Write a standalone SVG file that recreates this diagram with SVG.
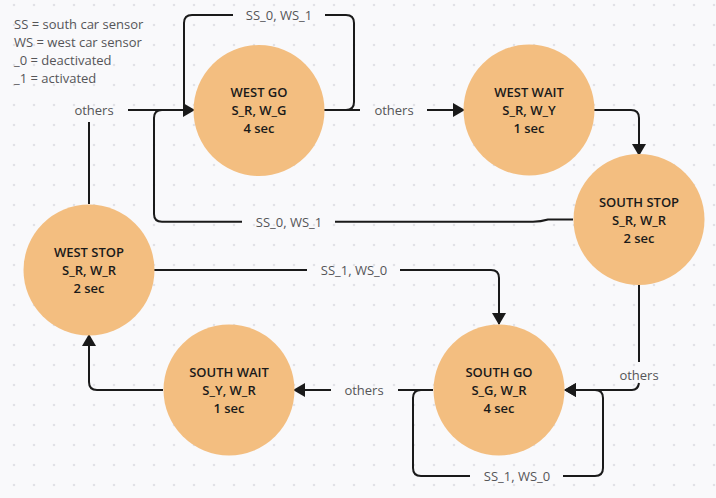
<svg xmlns="http://www.w3.org/2000/svg" width="716" height="498" viewBox="0 0 716 498">
<defs>
<pattern id="grid" x="4" y="-5" width="20" height="20" patternUnits="userSpaceOnUse">
<circle cx="10" cy="10" r="1.3" fill="#e1e1e6"/>
</pattern>
<marker id="arr" viewBox="0 0 12 14" refX="11" refY="7" markerWidth="12" markerHeight="14" markerUnits="userSpaceOnUse" orient="auto">
<path d="M0,0 L12,7 L0,14 Z" fill="#1a1a1a"/>
</marker>
<style>
.node{fill:#f3be80}
.nt{font-family:"Open Sans","Liberation Sans",sans-serif;font-size:13px;font-weight:600;fill:#1a1a1a;text-anchor:middle}
.lbl{font-family:"Open Sans","Liberation Sans",sans-serif;font-size:13px;fill:#555558;text-anchor:middle;dominant-baseline:central}
.leg{font-family:"Open Sans","Liberation Sans",sans-serif;font-size:13px;fill:#555558;dominant-baseline:central}
.c{fill:none;stroke:#1a1a1a;stroke-width:2;stroke-linejoin:round}
</style>
</defs>
<rect width="716" height="498" fill="#f9f9fb"/>
<rect width="716" height="498" fill="url(#grid)"/>

<g id="legend">
<text class="leg" x="14" y="24">SS = south car sensor</text>
<text class="leg" x="14" y="42">WS = west car sensor</text>
<text class="leg" x="14" y="60">_0 = deactivated</text>
<text class="leg" x="14" y="78">_1 = activated</text>
</g>

<g id="connectors">
<!-- WEST GO self loop -->
<path class="c" d="M324,110 L346,110 Q354,110 354,102 L354,23 Q354,15 346,15 L325,15"/>
<path class="c" d="M233,15 L192,15 Q184,15 184,23 L184,104 Q184,110 190,110" />
<!-- WEST GO -> WEST WAIT -->
<path class="c" d="M346,110 L360,110"/>
<path class="c" marker-end="url(#arr)" d="M427,110 L464,110"/>
<!-- WEST STOP -> WEST GO -->
<path class="c" d="M89,204 L89,122"/>
<path class="c" marker-end="url(#arr)" d="M128,110 L194,110"/>
<!-- SOUTH STOP -> WEST GO -->
<path class="c" d="M573,219.5 L548,219.5 Q541,221.7 533,221.7 L335,221.7"/>
<path class="c" d="M242,221.7 L162,221.7 Q154,221.7 154,214 L154,118 Q154,110 162,110 L180,110"/>
<!-- WEST WAIT -> SOUTH STOP -->
<path class="c" marker-end="url(#arr)" d="M594,110 L631,110 Q639,110 639,118 L639,155"/>
<!-- SOUTH STOP -> SOUTH GO -->
<path class="c" d="M639,285 L639,362"/>
<path class="c" marker-end="url(#arr)" d="M639,383 Q638,390 632,390 L565,390"/>
<!-- SOUTH GO self loop -->
<path class="c" d="M433,390 L421,390 Q413,390 413,398 L413,468 Q413,476 421,476 L470,476"/>
<path class="c" marker-end="url(#arr)" d="M563,476 L595,476 Q603,476 603,468 L603,398 Q603,390 595,390 L565,390"/>
<!-- SOUTH GO -> SOUTH WAIT -->
<path class="c" d="M433,390 L398,390"/>
<path class="c" marker-end="url(#arr)" d="M331,390 L294,390"/>
<!-- SOUTH WAIT -> WEST STOP -->
<path class="c" marker-end="url(#arr)" d="M163,390 L97,390 Q89,390 89,382 L89,335"/>
<!-- WEST STOP -> SOUTH GO -->
<path class="c" d="M154,270 L307,270"/>
<path class="c" marker-end="url(#arr)" d="M400,270 L491,270 Q499,270 499,278 L499,324"/>

<text class="lbl" x="279" y="15">SS_0, WS_1</text>
<text class="lbl" x="394" y="110">others</text>
<text class="lbl" x="94" y="110">others</text>
<text class="lbl" x="289" y="221.7">SS_0, WS_1</text>
<text class="lbl" x="639" y="375">others</text>
<text class="lbl" x="517" y="476">SS_1, WS_0</text>
<text class="lbl" x="364" y="390">others</text>
<text class="lbl" x="354" y="270">SS_1, WS_0</text>
</g>

<g id="west-go">
<circle class="node" cx="259" cy="110.5" r="65.5"/>
<text class="nt" x="259" y="97">WEST GO</text>
<text class="nt" x="259" y="115">S_R, W_G</text>
<text class="nt" x="259" y="133">4 sec</text>
</g>
<g id="west-wait">
<circle class="node" cx="529" cy="110" r="65.5"/>
<text class="nt" x="529" y="97">WEST WAIT</text>
<text class="nt" x="529" y="115">S_R, W_Y</text>
<text class="nt" x="529" y="133">1 sec</text>
</g>
<g id="south-stop">
<circle class="node" cx="639" cy="219.5" r="65.5"/>
<text class="nt" x="639" y="207">SOUTH STOP</text>
<text class="nt" x="639" y="225">S_R, W_R</text>
<text class="nt" x="639" y="243">2 sec</text>
</g>
<g id="west-stop">
<circle class="node" cx="89" cy="270" r="65.5"/>
<text class="nt" x="89" y="257">WEST STOP</text>
<text class="nt" x="89" y="275">S_R, W_R</text>
<text class="nt" x="89" y="293">2 sec</text>
</g>
<g id="south-wait">
<circle class="node" cx="229" cy="390" r="65.5"/>
<text class="nt" x="229" y="377">SOUTH WAIT</text>
<text class="nt" x="229" y="395">S_Y, W_R</text>
<text class="nt" x="229" y="413">1 sec</text>
</g>
<g id="south-go">
<circle class="node" cx="499" cy="390" r="65.5"/>
<text class="nt" x="499" y="377">SOUTH GO</text>
<text class="nt" x="499" y="395">S_G, W_R</text>
<text class="nt" x="499" y="413">4 sec</text>
</g>
</svg>
